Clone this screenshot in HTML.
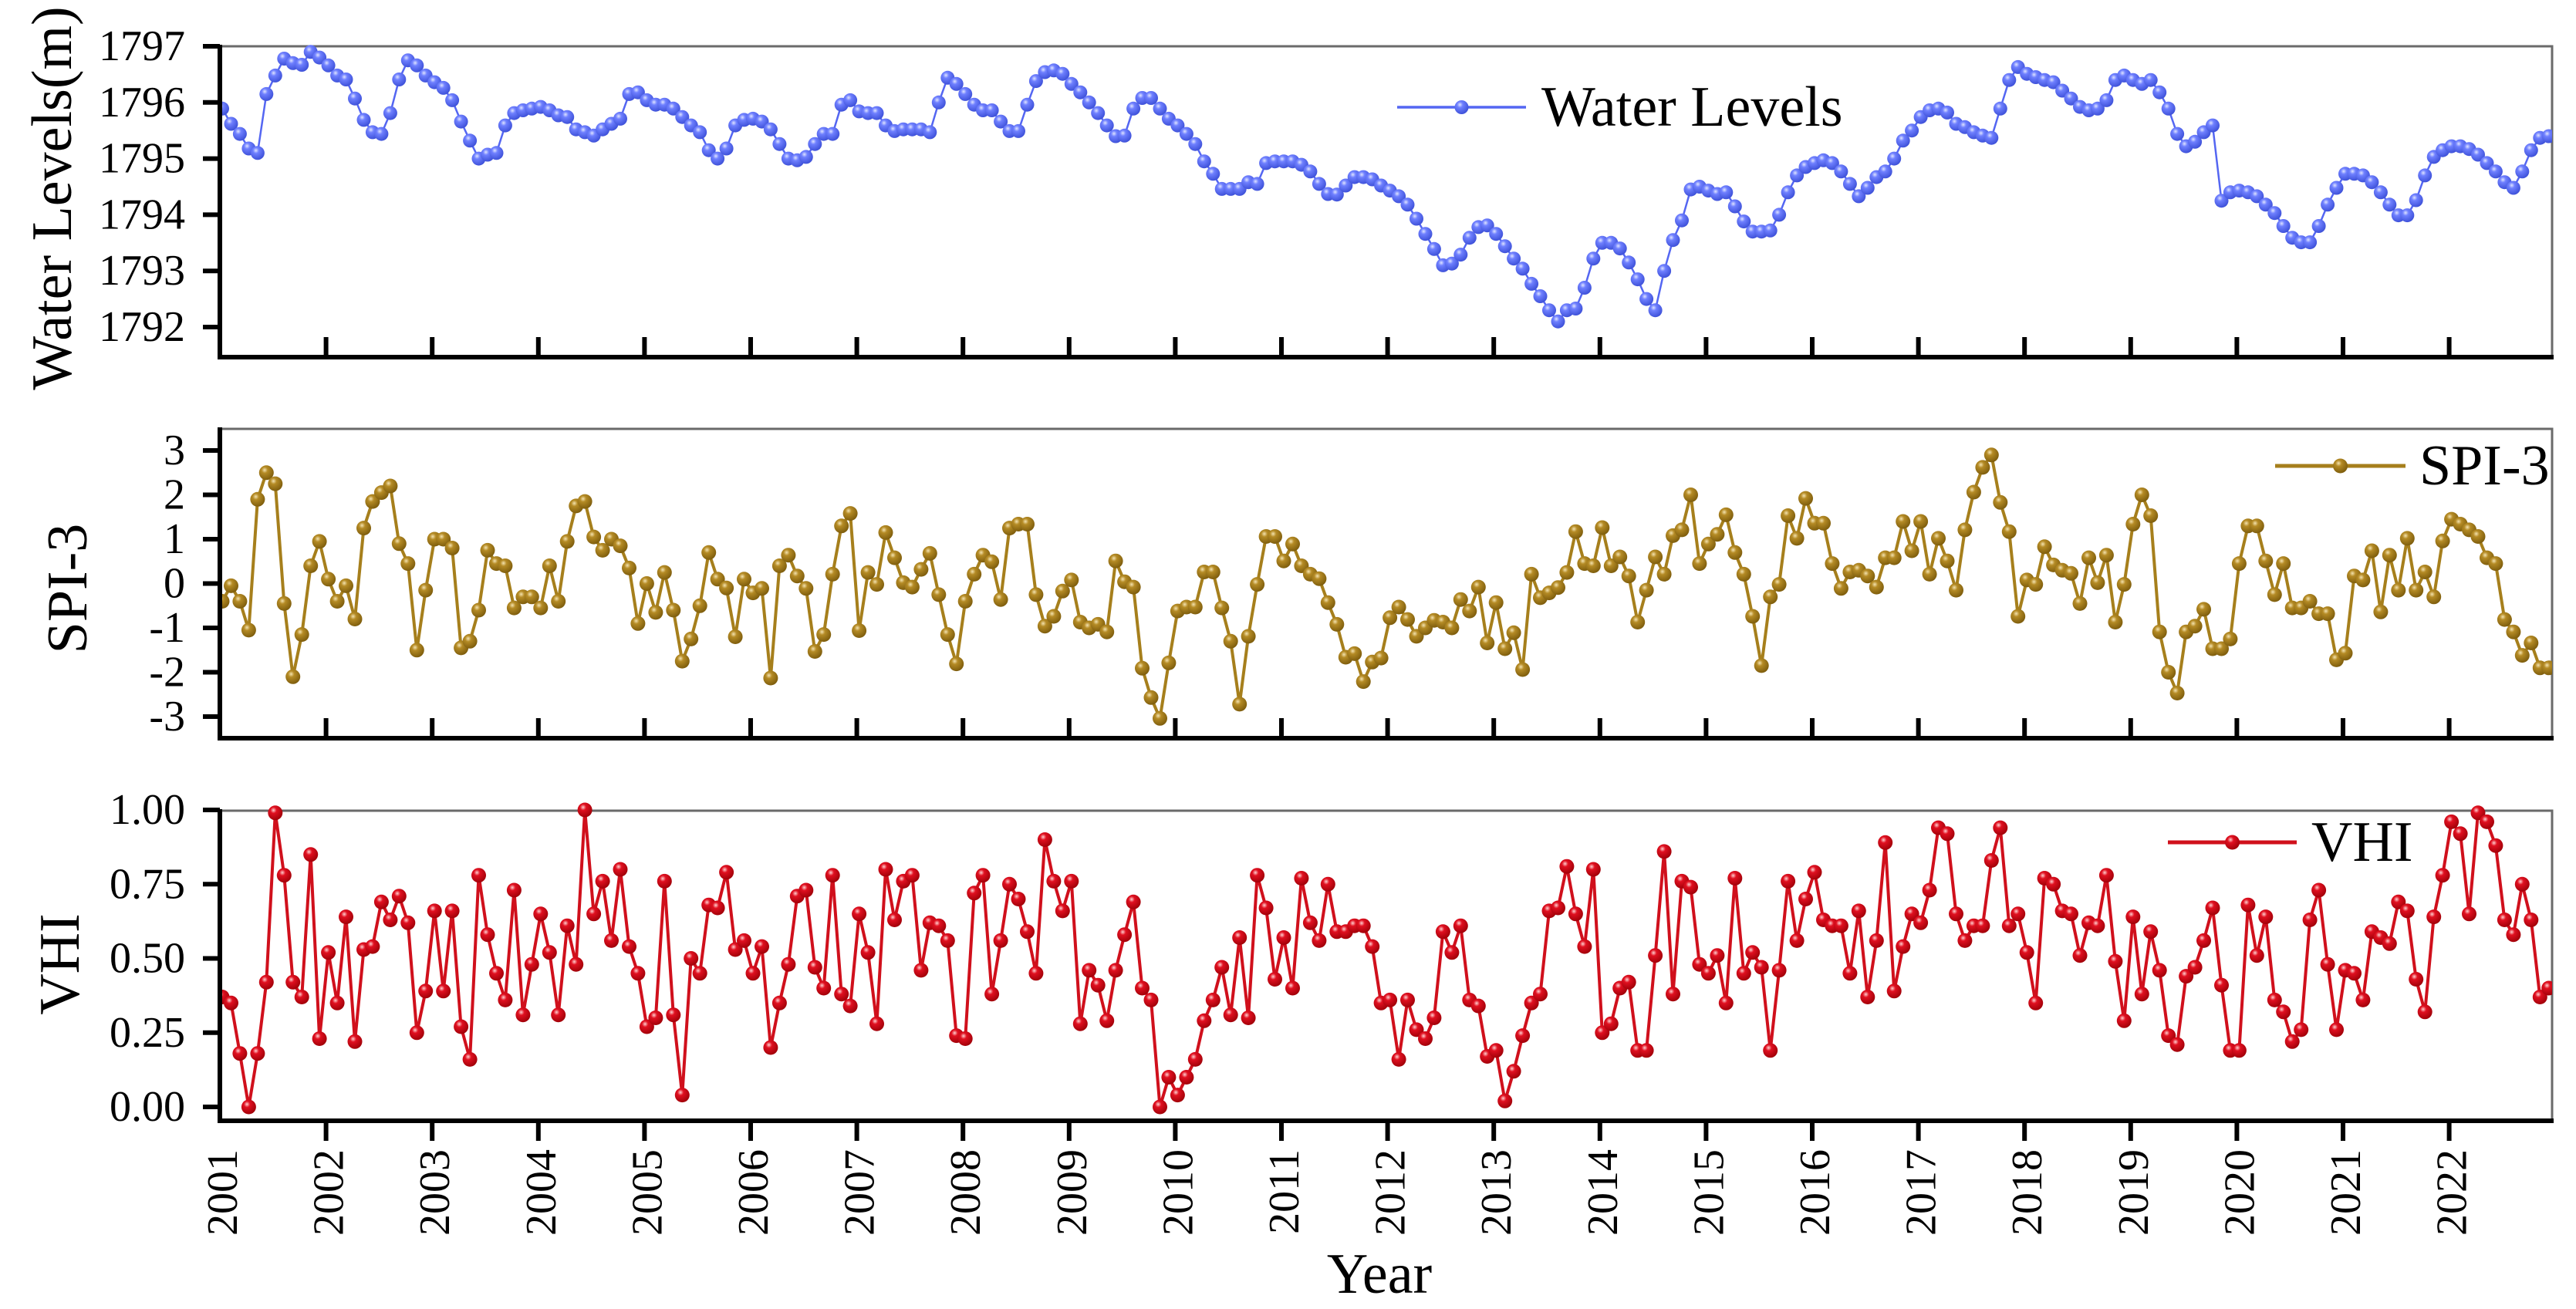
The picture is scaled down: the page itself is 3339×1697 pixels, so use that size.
<!DOCTYPE html>
<html><head><meta charset="utf-8"><style>
html,body{margin:0;padding:0;background:#fff;}
svg{display:block;font-family:"Liberation Serif","Times New Roman",serif;}
</style></head><body>
<svg id="chart" width="3339" height="1697" viewBox="0 0 3339 1697" xmlns="http://www.w3.org/2000/svg">
<defs>
<radialGradient id="gBlue" cx="0.38" cy="0.32" r="0.7"><stop offset="0" stop-color="#dfe4ff"/><stop offset="0.3" stop-color="#6f80ff"/><stop offset="1" stop-color="#3d50d8"/></radialGradient>
<radialGradient id="gGold" cx="0.38" cy="0.32" r="0.7"><stop offset="0" stop-color="#f4e3b0"/><stop offset="0.3" stop-color="#b58b25"/><stop offset="1" stop-color="#7d5c0c"/></radialGradient>
<radialGradient id="gRed" cx="0.38" cy="0.32" r="0.7"><stop offset="0" stop-color="#ffd0d0"/><stop offset="0.3" stop-color="#e01020"/><stop offset="1" stop-color="#a00008"/></radialGradient>
</defs>
</svg>
<script>
// ---- data ----
const years = [2001,2002,2003,2004,2005,2006,2007,2008,2009,2010,2011,2012,2013,2014,2015,2016,2017,2018,2019,2020,2021,2022];
const waterLevels = [
1795.89,1795.62,1795.44,1795.18,1795.1,1796.15,1796.48,1796.78,1796.7,1796.67,1796.9,1796.8,
1796.66,1796.48,1796.41,1796.07,1795.69,1795.47,1795.44,1795.81,1796.41,1796.75,1796.66,1796.48,
1796.36,1796.26,1796.04,1795.66,1795.32,1795.0,1795.07,1795.1,1795.59,1795.81,1795.86,1795.89,
1795.92,1795.86,1795.77,1795.74,1795.52,1795.47,1795.41,1795.52,1795.62,1795.71,1796.15,1796.18,
1796.04,1795.96,1795.96,1795.89,1795.74,1795.59,1795.47,1795.15,1795.0,1795.18,1795.59,1795.69,
1795.71,1795.66,1795.52,1795.26,1795.0,1794.97,1795.03,1795.26,1795.44,1795.44,1795.96,1796.04,
1795.84,1795.81,1795.81,1795.59,1795.49,1795.52,1795.52,1795.52,1795.47,1796.0,1796.44,1796.33,
1796.15,1795.96,1795.86,1795.86,1795.66,1795.49,1795.49,1795.96,1796.38,1796.54,1796.57,1796.51,
1796.33,1796.18,1796.0,1795.81,1795.59,1795.4,1795.41,1795.89,1796.08,1796.08,1795.89,1795.71,
1795.59,1795.44,1795.26,1794.95,1794.73,1794.46,1794.46,1794.46,1794.58,1794.55,1794.92,1794.95,
1794.95,1794.95,1794.89,1794.77,1794.55,1794.37,1794.36,1794.52,1794.67,1794.67,1794.63,1794.52,
1794.43,1794.33,1794.18,1793.93,1793.66,1793.39,1793.1,1793.13,1793.29,1793.59,1793.78,1793.81,
1793.66,1793.44,1793.22,1793.04,1792.77,1792.55,1792.3,1792.1,1792.3,1792.33,1792.7,1793.22,
1793.5,1793.5,1793.4,1793.15,1792.85,1792.5,1792.3,1793.0,1793.55,1793.9,1794.45,1794.5,
1794.43,1794.37,1794.4,1794.15,1793.88,1793.7,1793.7,1793.72,1794.0,1794.4,1794.7,1794.85,
1794.92,1794.97,1794.92,1794.77,1794.55,1794.33,1794.48,1794.67,1794.77,1795.0,1795.32,1795.5,
1795.74,1795.86,1795.89,1795.82,1795.62,1795.56,1795.47,1795.41,1795.37,1795.89,1796.4,1796.63,
1796.51,1796.45,1796.4,1796.36,1796.21,1796.07,1795.92,1795.86,1795.89,1796.04,1796.4,1796.48,
1796.4,1796.33,1796.4,1796.18,1795.89,1795.44,1795.22,1795.3,1795.47,1795.59,1794.25,1794.4,
1794.43,1794.4,1794.33,1794.18,1794.03,1793.8,1793.59,1793.51,1793.51,1793.8,1794.18,1794.48,
1794.73,1794.73,1794.7,1794.58,1794.4,1794.18,1793.99,1793.99,1794.26,1794.7,1795.03,1795.15,
1795.22,1795.22,1795.17,1795.07,1794.92,1794.77,1794.58,1794.48,1794.77,1795.15,1795.37,1795.4];
const spi3 = [
-0.4,-0.05,-0.4,-1.05,1.9,2.5,2.25,-0.45,-2.1,-1.15,0.4,0.95,
0.1,-0.4,-0.05,-0.8,1.25,1.85,2.05,2.2,0.9,0.45,-1.5,-0.15,
1.0,1.0,0.8,-1.45,-1.3,-0.6,0.75,0.45,0.4,-0.55,-0.3,-0.3,
-0.55,0.4,-0.4,0.95,1.75,1.85,1.05,0.75,1.0,0.85,0.35,-0.9,
0.0,-0.65,0.25,-0.6,-1.75,-1.25,-0.5,0.7,0.1,-0.1,-1.2,0.1,
-0.21,-0.11,-2.13,0.4,0.64,0.17,-0.11,-1.53,-1.15,0.21,1.3,1.58,
-1.06,0.25,-0.02,1.15,0.58,0.02,-0.08,0.32,0.68,-0.25,-1.15,-1.81,
-0.4,0.21,0.64,0.49,-0.36,1.25,1.34,1.34,-0.25,-0.96,-0.74,-0.17,
0.08,-0.87,-1.0,-0.92,-1.09,0.51,0.04,-0.08,-1.91,-2.57,-3.04,-1.79,
-0.62,-0.53,-0.53,0.26,0.26,-0.55,-1.3,-2.72,-1.19,-0.02,1.06,1.06,
0.51,0.89,0.4,0.21,0.11,-0.43,-0.92,-1.66,-1.58,-2.21,-1.77,-1.68,
-0.77,-0.53,-0.81,-1.19,-1.0,-0.83,-0.87,-1.0,-0.36,-0.62,-0.08,-1.34,
-0.43,-1.47,-1.11,-1.94,0.21,-0.32,-0.21,-0.09,0.25,1.17,0.45,0.4,
1.26,0.4,0.6,0.17,-0.87,-0.15,0.6,0.21,1.08,1.21,2.0,0.45,
0.89,1.11,1.55,0.7,0.21,-0.74,-1.85,-0.3,-0.02,1.53,1.02,1.92,
1.36,1.36,0.45,-0.11,0.26,0.3,0.17,-0.08,0.58,0.58,1.4,0.74,
1.4,0.21,1.02,0.51,-0.15,1.21,2.06,2.62,2.9,1.83,1.17,-0.74,
0.08,-0.02,0.83,0.42,0.3,0.23,-0.45,0.58,0.02,0.64,-0.87,-0.02,
1.34,2.0,1.53,-1.09,-2.0,-2.47,-1.09,-0.96,-0.58,-1.47,-1.47,-1.25,
0.45,1.3,1.3,0.51,-0.25,0.45,-0.55,-0.55,-0.4,-0.68,-0.68,-1.72,
-1.57,0.17,0.08,0.74,-0.64,0.64,-0.15,1.02,-0.15,0.26,-0.3,0.96,
1.45,1.34,1.21,1.06,0.58,0.45,-0.81,-1.09,-1.62,-1.34,-1.9,-1.9];
const vhi = [
.37,.35,.18,0,.18,.42,.99,.78,.42,.37,.85,.23,
.52,.35,.64,.22,.53,.54,.69,.63,.71,.62,.25,.39,
.66,.39,.66,.27,.16,.78,.58,.45,.36,.73,.31,.48,
.65,.52,.31,.61,.48,1.0,.65,.76,.56,.80,.54,.45,
.27,.30,.76,.31,.04,.50,.45,.68,.67,.79,.53,.56,
.45,.54,.20,.35,.48,.71,.73,.47,.40,.78,.38,.34,
.65,.52,.28,.80,.63,.76,.78,.46,.62,.61,.56,.24,
.23,.72,.78,.38,.56,.75,.70,.59,.45,.90,.76,.66,
.76,.28,.46,.41,.29,.46,.58,.69,.40,.36,0,.10,
.04,.10,.16,.29,.36,.47,.31,.57,.30,.78,.67,.43,
.57,.40,.77,.62,.56,.75,.59,.59,.61,.61,.54,.35,
.36,.16,.36,.26,.23,.30,.59,.52,.61,.36,.34,.17,
.19,.02,.12,.24,.35,.38,.66,.67,.81,.65,.54,.80,
.25,.28,.40,.42,.19,.19,.51,.86,.38,.76,.74,.48,
.45,.51,.35,.77,.45,.52,.47,.19,.46,.76,.56,.70,
.79,.63,.61,.61,.45,.66,.37,.56,.89,.39,.54,.65,
.62,.73,.94,.92,.65,.56,.61,.61,.83,.94,.61,.65,
.52,.35,.77,.75,.66,.65,.51,.62,.61,.78,.49,.29,
.64,.38,.59,.46,.24,.21,.44,.47,.56,.67,.41,.19,
.19,.68,.51,.64,.36,.32,.22,.26,.63,.73,.48,.26,
.46,.45,.36,.59,.57,.55,.69,.66,.43,.32,.64,.78,
.96,.92,.65,.99,.96,.88,.63,.58,.75,.63,.37,.40];
const waterTicks = [1792,1793,1794,1795,1796,1797];
const spiTicks = [-3,-2,-1,0,1,2,3];
const vhiTicks = [0,0.25,0.5,0.75,1.0];
const vhiTickLabels = ["0.00","0.25","0.50","0.75","1.00"];

// ---- layout ----
const NS = "http://www.w3.org/2000/svg";
const svg = document.getElementById("chart");
const L = 285, R = 3308, YEAR = 137.6;
function xYear(y){ return L + (y - 2001) * YEAR; }
function xIdx(i){ return 288 + i * YEAR / 12; }
const panels = [
 {name:"water-levels", top:60, bottom:463, y:v=>60+(1797-v)*72.8, ticks:waterTicks, labels:waterTicks.map(String), data:waterLevels, color:"#5466f2", grad:"url(#gBlue)", r:9, lw:2.5, title:"Water Levels(m)", tx:68, ty:257, legend:"Water Levels", lx1:1811, lx2:1978, ly:139, ltx:1998, downTicks:false},
 {name:"spi-3", top:556, bottom:957, y:v=>756.5-v*57.5, ticks:spiTicks, labels:spiTicks.map(String), data:spi3, color:"#a67f1c", grad:"url(#gGold)", r:9.5, lw:4, title:"SPI-3", tx:88, ty:763, legend:"SPI-3", lx1:2949, lx2:3118, ly:604, ltx:3136, downTicks:false},
 {name:"vhi", top:1051, bottom:1453, y:v=>1435-v*385, ticks:vhiTicks, labels:vhiTickLabels, data:vhi, color:"#d0101c", grad:"url(#gRed)", r:9.5, lw:4, title:"VHI", tx:78, ty:1250, legend:"VHI", lx1:2810, lx2:2977, ly:1092, ltx:2996, downTicks:true}
];
function mk(tag, attrs, parent){ const e=document.createElementNS(NS,tag); for(const k in attrs) e.setAttribute(k,attrs[k]); (parent||svg).appendChild(e); return e; }

panels.forEach(p=>{
  const g = mk("g",{});
  
  
  const clipId = "clip-" + p.name;
  const cp = mk("clipPath",{id:clipId}, g);
  mk("rect",{x:L,y:p.top-12,width:R-L,height:p.bottom-p.top+12}, cp);
  const fr = mk("path",{d:`M${L} ${p.top} H${R} V${p.bottom}`, fill:"none", stroke:"#6a6a6a", "stroke-width":3}, g);
  
  
  let d = "";
  p.data.forEach((v,i)=>{ d += (i?"L":"M") + xIdx(i).toFixed(1) + " " + p.y(v).toFixed(1); });
  const ln = mk("path",{d:d, fill:"none", stroke:p.color, "stroke-width":p.lw, "stroke-linejoin":"round", "clip-path":`url(#${clipId})`}, g);
  
  
  const mg = mk("g",{"clip-path":`url(#${clipId})`}, g);
  p.data.forEach((v,i)=>{
    const c = mk("circle",{cx:xIdx(i).toFixed(1), cy:p.y(v).toFixed(1), r:p.r, fill:p.grad}, mg);
    
    
  });
  const ax = mk("path",{d:`M${L} ${p.top-2} V${p.bottom} H${R+2}`, fill:"none", stroke:"#000", "stroke-width":6}, g);
  
  
  p.ticks.forEach((t,k)=>{
    const yy = p.y(t);
    const tk = mk("line",{x1:L-22,x2:L,y1:yy,y2:yy,stroke:"#000","stroke-width":6}, g);
    
    
    const tl = mk("text",{x:240,y:yy,"text-anchor":"end","dominant-baseline":"central","font-size":56,fill:"#000"}, g);
    tl.textContent = p.labels[k];
    
    
  });
  years.slice(1).forEach(yr=>{
    const xx = xYear(yr);
    const tk = p.downTicks ? mk("line",{x1:xx,x2:xx,y1:p.bottom,y2:p.bottom+26,stroke:"#000","stroke-width":6}, g)
                           : mk("line",{x1:xx,x2:xx,y1:p.bottom,y2:p.bottom-26,stroke:"#000","stroke-width":6}, g);
    
    
  });
  const tt = mk("text",{x:p.tx,y:p.ty,"text-anchor":"middle","dominant-baseline":"central","font-size":74,fill:"#000",transform:`rotate(-90 ${p.tx} ${p.ty})`}, g);
  tt.textContent = p.title;
  
  
  const lg = mk("g",{}, g);
  
  
  mk("line",{x1:p.lx1,x2:p.lx2,y1:p.ly,y2:p.ly,stroke:p.color,"stroke-width":p.lw+1}, lg);
  mk("circle",{cx:(p.lx1+p.lx2)/2,cy:p.ly,r:p.r,fill:p.grad}, lg);
  const lt = mk("text",{x:p.ltx,y:p.ly,"dominant-baseline":"central","font-size":74,fill:"#000"}, lg);
  lt.textContent = p.legend;
});

years.forEach(yr=>{
  const xx = xYear(yr) + 4;
  const t = mk("text",{x:xx,y:1490,"text-anchor":"end","dominant-baseline":"central","font-size":56,fill:"#000",transform:`rotate(-90 ${xx} 1490)`});
  t.textContent = String(yr);
  
  
});
const xt = mk("text",{x:1788,y:1676,"text-anchor":"middle","font-size":74,fill:"#000"});
xt.textContent = "Year";


</script>
</body></html>
